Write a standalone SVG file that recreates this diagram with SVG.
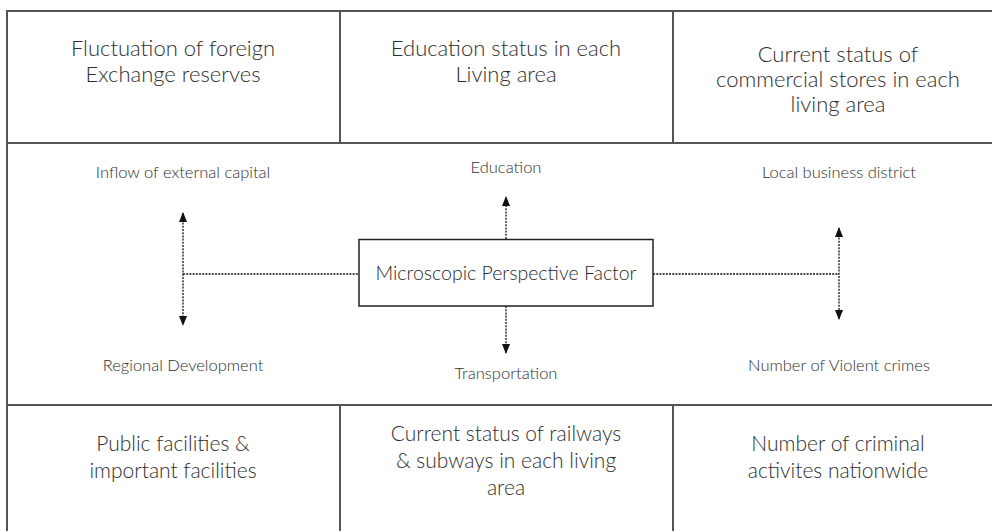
<svg xmlns="http://www.w3.org/2000/svg" width="992" height="531" viewBox="0 0 992 531">
  <style>
    .grid { stroke: #555; stroke-width: 2; fill: none; }
    .cell { font-family: Lato, "Noto Sans", sans-serif; font-weight: 300; font-size: 21px; fill: #2e2e2e; text-anchor: middle; }
    .top { font-size: 22px; }
    .lbl { font-family: Lato, "Noto Sans", sans-serif; font-weight: 300; font-size: 16.5px; fill: #2e2e2e; text-anchor: middle; }
    .core { font-family: Lato, "Noto Sans", sans-serif; font-weight: 300; font-size: 19.5px; fill: #2a2a2a; text-anchor: middle; }
    .dash { stroke: #111; stroke-width: 1.3; stroke-dasharray: 2 1.2; fill: none; }
    .box { fill: #fff; stroke: #222; stroke-width: 1.5; }
  </style>
  <defs>
    <marker id="tip" markerUnits="userSpaceOnUse" markerWidth="10" markerHeight="10" viewBox="0 0 10 10" refX="9" refY="5" orient="auto-start-reverse">
      <path d="M0,1 L10,5 L0,9 Z" fill="#111"/>
    </marker>
  </defs>

  <rect width="992" height="531" fill="#fff"/>

  <!-- table frame -->
  <g id="frame" class="grid">
    <line x1="7" y1="11" x2="992" y2="11"/>
    <line x1="7" y1="10" x2="7" y2="531"/>
    <line x1="7" y1="143" x2="992" y2="143"/>
    <line x1="7" y1="405" x2="992" y2="405"/>
    <line x1="340" y1="11" x2="340" y2="143"/>
    <line x1="673" y1="11" x2="673" y2="143"/>
    <line x1="340" y1="405" x2="340" y2="531"/>
    <line x1="673" y1="405" x2="673" y2="531"/>
  </g>

  <!-- top row cells -->
  <g id="cell-forex">
    <text class="cell top" x="173" y="56">Fluctuation of foreign</text>
    <text class="cell top" x="173" y="82">Exchange reserves</text>
  </g>
  <g id="cell-education">
    <text class="cell top" x="506" y="56">Education status in each</text>
    <text class="cell top" x="506" y="82">Living area</text>
  </g>
  <g id="cell-commercial">
    <text class="cell top" x="838" y="62">Current status of</text>
    <text class="cell top" x="838" y="87">commercial stores in each</text>
    <text class="cell top" x="838" y="112">living area</text>
  </g>

  <!-- bottom row cells -->
  <g id="cell-public">
    <text class="cell" x="173" y="451">Public facilities &amp;</text>
    <text class="cell" x="173" y="478">important facilities</text>
  </g>
  <g id="cell-railways">
    <text class="cell" x="506" y="441">Current status of railways</text>
    <text class="cell" x="506" y="468">&amp; subways in each living</text>
    <text class="cell" x="506" y="495">area</text>
  </g>
  <g id="cell-crime">
    <text class="cell" x="838" y="451">Number of criminal</text>
    <text class="cell" x="838" y="478">activites nationwide</text>
  </g>

  <!-- connectors -->
  <g id="connectors">
    <line class="dash" x1="183" y1="274" x2="359" y2="274"/>
    <line class="dash" x1="183" y1="213" x2="183" y2="325" marker-start="url(#tip)" marker-end="url(#tip)"/>
    <line class="dash" x1="653" y1="274" x2="839" y2="274"/>
    <line class="dash" x1="839" y1="228" x2="839" y2="319" marker-start="url(#tip)" marker-end="url(#tip)"/>
    <line class="dash" x1="506" y1="239" x2="506" y2="197" marker-end="url(#tip)"/>
    <line class="dash" x1="506" y1="306" x2="506" y2="353" marker-end="url(#tip)"/>
  </g>

  <!-- central factor -->
  <g id="core">
    <rect class="box" x="359" y="239.5" width="294" height="66.5"/>
    <text class="core" x="506" y="280">Microscopic Perspective Factor</text>
  </g>

  <!-- branch labels -->
  <g id="lbl-inflow"><text class="lbl" x="183" y="178">Inflow of external capital</text></g>
  <g id="lbl-regional"><text class="lbl" x="183" y="371">Regional Development</text></g>
  <g id="lbl-education"><text class="lbl" x="506" y="173">Education</text></g>
  <g id="lbl-transport"><text class="lbl" x="506" y="379">Transportation</text></g>
  <g id="lbl-business"><text class="lbl" x="839" y="178">Local business district</text></g>
  <g id="lbl-violent"><text class="lbl" x="839" y="371">Number of Violent crimes</text></g>
</svg>
